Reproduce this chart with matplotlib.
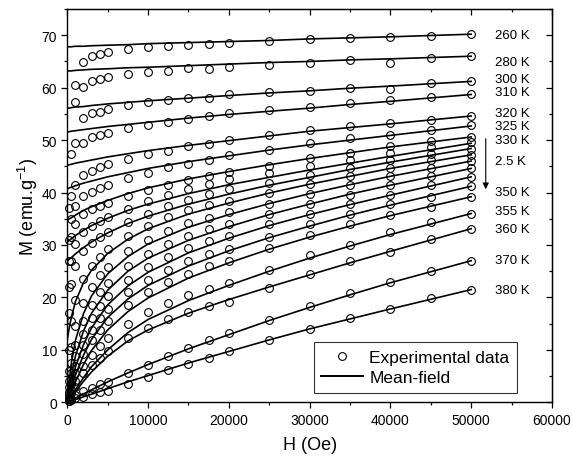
import numpy as np
import matplotlib
matplotlib.use('Agg')
import matplotlib.pyplot as plt
from matplotlib.lines import Line2D
from matplotlib.ticker import MultipleLocator

plt.rcParams['font.family'] = ['Liberation Sans', 'DejaVu Sans']
n = np.nan

TEMPS = [260, 280, 300, 310, 320, 325, 330, 332.5, 335, 337.5, 340, 342.5,
         345, 347.5, 350, 355, 360, 370, 380]

# experimental points (field in Oe, M in emu/g)
H_EXP = [200, 500, 1000, 2000, 3000, 4000, 5000, 7500, 10000, 12500, 15000,
         17500, 20000, 25000, 30000, 35000, 40000, 45000, 50000]
EXP_260 = [n, n, n, 64.9, 66.1, 66.5, 66.8, 67.4, 67.8, 68.0, 68.2, 68.4, 68.6, 68.9, 69.3, 69.4, 69.6, 69.9, 70.3]
EXP_280 = [n, n, 60.5, 60.2, 61.3, 61.7, 62.0, 62.7, 63.0, 63.2, 63.7, 63.6, 64.0, 64.4, 64.7, 65.3, 64.7, 65.6, 66.0]
EXP_300 = [n, n, 57.3, 54.2, 55.1, 55.4, 55.9, 56.7, 57.2, 57.7, 58.0, 58.1, 58.7, 59.1, 59.4, 59.9, 59.7, 60.8, 61.3]
EXP_310 = [n, 47.4, 49.4, 49.5, 50.6, 51.0, 51.4, 52.3, 52.9, 53.4, 54.0, 54.6, 55.2, 55.8, 56.4, 57.1, 57.7, 58.2, 58.7]
EXP_320 = [37.0, 39.3, 41.5, 43.4, 44.2, 44.8, 45.4, 46.4, 47.3, 48.0, 48.8, 49.3, 50.1, 50.9, 51.9, 52.7, 53.2, 53.8, 54.6]
EXP_325 = [31.0, 35.0, 37.5, 39.3, 40.2, 40.9, 41.4, 42.8, 43.8, 44.8, 45.4, 46.3, 47.1, 48.2, 49.4, 50.4, 51.0, 51.9, 52.8]
EXP_330 = [27.0, 31.5, 34.0, 36.0, 36.8, 37.5, 38.1, 39.4, 40.5, 41.5, 42.4, 43.2, 44.0, 45.1, 46.5, 47.6, 48.8, 49.9, 50.6]
EXP_3325 = [22.0, 27.0, 30.2, 32.5, 33.6, 34.5, 35.3, 36.9, 38.3, 39.5, 40.6, 41.6, 42.6, 43.8, 45.1, 46.2, 47.6, 48.7, 49.6]
EXP_335 = [17.0, 22.5, 26.0, 28.8, 30.3, 31.5, 32.5, 34.4, 36.0, 37.4, 38.6, 39.7, 40.7, 41.9, 43.4, 44.7, 46.2, 47.4, 48.4]
EXP_3375 = [10.0, 15.5, 19.5, 23.5, 26.0, 27.8, 29.2, 31.8, 33.7, 35.3, 36.6, 37.6, 38.4, 40.0, 41.7, 43.1, 44.7, 46.2, 47.2]
EXP_340 = [6.0, 10.5, 14.5, 19.0, 22.0, 24.2, 25.8, 28.8, 31.0, 32.7, 34.1, 35.2, 36.2, 37.9, 39.7, 41.4, 43.1, 44.7, 46.0]
EXP_3425 = [4.0, 7.5, 11.0, 15.5, 18.6, 21.0, 22.8, 26.0, 28.3, 30.2, 31.7, 33.0, 34.0, 35.9, 37.8, 39.5, 41.4, 43.2, 44.6]
EXP_345 = [3.0, 5.5, 8.8, 13.0, 16.0, 18.3, 20.2, 23.4, 25.8, 27.8, 29.4, 30.7, 31.8, 34.0, 35.9, 37.8, 39.5, 41.4, 43.0]
EXP_3475 = [2.0, 4.5, 7.0, 11.0, 13.8, 16.0, 17.8, 21.0, 23.4, 25.3, 26.9, 28.2, 29.3, 31.6, 34.0, 35.9, 37.8, 39.2, 41.2]
EXP_350 = [1.5, 3.5, 5.5, 9.3, 11.8, 13.8, 15.5, 18.6, 21.0, 22.9, 24.5, 25.9, 27.0, 29.4, 31.9, 34.0, 35.7, 37.3, 39.2]
EXP_355 = [1.0, 2.3, 4.0, 7.0, 9.0, 10.8, 12.2, 15.0, 17.2, 19.0, 20.5, 21.7, 22.7, 25.3, 28.0, 30.0, 32.4, 34.3, 36.0]
EXP_360 = [0.7, 1.7, 3.0, 5.5, 7.2, 8.5, 9.7, 12.2, 14.2, 15.9, 17.3, 18.4, 19.2, 21.8, 24.4, 26.9, 28.7, 31.1, 33.1]
EXP_370 = [0.3, 0.7, 1.3, 2.1, 2.8, 3.4, 3.8, 5.5, 7.2, 8.8, 10.3, 11.8, 13.3, 15.7, 18.4, 20.8, 22.9, 25.0, 27.0]
EXP_380 = [0.2, 0.4, 0.8, 1.1, 1.5, 1.9, 2.2, 3.5, 4.9, 6.1, 7.3, 8.5, 9.8, 11.9, 13.9, 16.0, 17.7, 19.8, 21.5]

# mean-field curves
H_MF = [0, 250, 500, 1000, 2000, 3000, 5000, 7500, 10000, 15000, 20000,
        25000, 30000, 35000, 40000, 50000]
MF_260 = [67.8, 67.8, 67.8, 67.9, 67.9, 68.0, 68.1, 68.2, 68.4, 68.6, 68.8, 69.0, 69.3, 69.5, 69.7, 70.2]
MF_280 = [63.2, 63.2, 63.2, 63.3, 63.4, 63.5, 63.6, 63.8, 63.9, 64.2, 64.5, 64.8, 65.0, 65.3, 65.5, 66.0]
MF_300 = [56.1, 56.1, 56.2, 56.3, 56.4, 56.6, 56.9, 57.2, 57.5, 58.0, 58.5, 59.0, 59.4, 59.9, 60.3, 61.2]
MF_310 = [51.6, 51.6, 51.7, 51.8, 52.0, 52.2, 52.6, 53.0, 53.4, 54.2, 54.9, 55.5, 56.1, 56.8, 57.4, 58.7]
MF_320 = [45.2, 45.3, 45.4, 45.6, 45.9, 46.2, 46.8, 47.4, 48.0, 49.0, 49.9, 50.8, 51.7, 52.4, 53.1, 54.6]
MF_325 = [40.7, 40.9, 41.0, 41.3, 41.8, 42.2, 43.0, 43.8, 44.6, 45.9, 47.0, 48.1, 49.1, 50.0, 50.9, 52.7]
MF_330 = [34.7, 35.0, 35.2, 35.7, 36.6, 37.3, 38.5, 39.8, 40.9, 42.6, 44.0, 45.3, 46.5, 47.6, 48.7, 50.6]
MF_3325 = [30.6, 30.9, 31.2, 31.8, 32.8, 33.7, 35.1, 36.6, 37.8, 39.8, 41.5, 42.9, 44.3, 45.6, 46.9, 49.4]
MF_335 = [26.9, 27.3, 27.6, 28.3, 29.5, 30.6, 32.3, 34.1, 35.5, 37.8, 39.7, 41.4, 42.9, 44.4, 45.8, 48.4]
MF_3375 = [12.0, 14.3, 16.2, 19.2, 22.8, 25.2, 28.4, 31.1, 33.1, 35.9, 38.0, 39.9, 41.6, 43.1, 44.6, 47.2]
MF_340 = [0.0, 4.4, 7.5, 11.8, 16.9, 20.3, 24.5, 27.8, 30.2, 33.4, 35.8, 37.9, 39.8, 41.5, 43.1, 46.0]
MF_3425 = [0.0, 2.8, 5.1, 8.8, 13.6, 17.0, 21.4, 25.0, 27.5, 30.9, 33.5, 35.8, 37.8, 39.7, 41.4, 44.6]
MF_345 = [0.0, 1.9, 3.6, 6.7, 11.0, 14.2, 18.6, 22.2, 24.8, 28.5, 31.3, 33.7, 35.8, 37.7, 39.5, 43.0]
MF_3475 = [0.0, 1.4, 2.7, 5.2, 9.0, 12.0, 16.2, 19.7, 22.3, 26.0, 28.9, 31.4, 33.6, 35.7, 37.6, 41.2]
MF_350 = [0.0, 1.0, 2.0, 3.9, 7.2, 9.9, 13.8, 17.3, 19.9, 23.7, 26.6, 29.2, 31.5, 33.6, 35.6, 39.2]
MF_355 = [0.0, 0.6, 1.2, 2.4, 4.7, 6.8, 10.0, 13.3, 15.8, 19.4, 22.3, 25.0, 27.5, 29.8, 32.0, 36.0]
MF_360 = [0.0, 0.5, 1.0, 2.0, 4.0, 5.8, 8.8, 11.7, 13.8, 17.0, 19.6, 22.0, 24.3, 26.6, 28.8, 33.1]
MF_370 = [0.0, 0.2, 0.4, 0.8, 1.6, 2.4, 3.9, 5.6, 7.2, 10.2, 12.9, 15.6, 18.1, 20.5, 22.8, 27.0]
MF_380 = [0.0, 0.13, 0.26, 0.52, 1.05, 1.55, 2.6, 3.9, 5.1, 7.5, 9.7, 11.9, 14.0, 15.9, 17.8, 21.5]

EXP = [EXP_260, EXP_280, EXP_300, EXP_310, EXP_320, EXP_325, EXP_330,
       EXP_3325, EXP_335, EXP_3375, EXP_340, EXP_3425, EXP_345, EXP_3475,
       EXP_350, EXP_355, EXP_360, EXP_370, EXP_380]
MF = [MF_260, MF_280, MF_300, MF_310, MF_320, MF_325, MF_330, MF_3325,
      MF_335, MF_3375, MF_340, MF_3425, MF_345, MF_3475, MF_350, MF_355,
      MF_360, MF_370, MF_380]

T_LABELS = ['260 K', '280 K', '300 K', '310 K', '320 K', '325 K', '330 K',
            '2.5 K', '350 K', '355 K', '360 K', '370 K', '380 K']
LABEL_M = [70.0, 64.9, 61.6, 59.1, 55.2, 52.6, 50.0, 46.1, 40.1, 36.4,
           33.1, 27.1, 21.4]


def main():
    fig = plt.figure(figsize=(5.72, 4.64), dpi=100)
    ax = fig.add_axes([0.1177, 0.1308, 0.8473, 0.8476])

    for m in MF:
        ax.plot(H_MF, m, color='black', lw=1.2, zorder=2)
    for e in EXP:
        ax.plot(H_EXP, e, ls='none', marker='o', ms=5.6, mfc='none',
                mec='black', mew=0.8, clip_on=False, zorder=3)

    for lab, y in zip(T_LABELS, LABEL_M):
        ax.text(53000, y, lab, fontsize=9.5, ha='left', va='center')
    ax.annotate('', xy=(51800, 40.1), xytext=(51800, 50.8),
                arrowprops=dict(arrowstyle='-|>', color='black', lw=0.8,
                                mutation_scale=9))

    ax.set_xlim(0, 60000)
    ax.xaxis.set_major_locator(MultipleLocator(10000))
    ax.xaxis.set_minor_locator(MultipleLocator(5000))
    ax.yaxis.set_minor_locator(MultipleLocator(5))
    ax.set_yticks(range(0, 71, 10))
    ax.set_ylim(0, 75)
    ax.tick_params(which='both', direction='out', top=False, right=False,
                   labelsize=10, width=0.9)
    ax.tick_params(which='major', length=4)
    ax.tick_params(which='minor', length=2.5)
    for sp in ax.spines.values():
        sp.set_linewidth(1.0)

    # inward ticks on top and right (no labels)
    tx = ax.secondary_xaxis('top')
    tx.set_xticks(range(0, 60001, 10000))
    tx.xaxis.set_minor_locator(MultipleLocator(5000))
    tx.tick_params(which='both', direction='in', labeltop=False, width=0.9)
    tx.tick_params(which='major', length=4)
    tx.tick_params(which='minor', length=2.5)
    ty = ax.secondary_yaxis('right')
    ty.set_yticks(range(0, 71, 10))
    ty.yaxis.set_minor_locator(MultipleLocator(5))
    ty.tick_params(which='both', direction='in', labelright=False, width=0.9)
    ty.tick_params(which='major', length=4)
    ty.tick_params(which='minor', length=2.5)

    ax.set_xlabel('H (Oe)', fontsize=13, labelpad=7)
    ax.set_ylabel(r'M (emu.g$^{\mathregular{-1}}$)', fontsize=13, labelpad=1)

    handles = [Line2D([], [], ls='none', marker='o', ms=5.6, mfc='none',
                      mec='black', mew=0.8),
               Line2D([], [], color='black', lw=1.4)]
    leg = ax.legend(handles, ['Experimental data', 'Mean-field'],
                    loc='lower right', bbox_to_anchor=(0.928, 0.024),
                    borderaxespad=0, fontsize=12.5, frameon=True,
                    fancybox=False, handlelength=2.4, handletextpad=0.35,
                    labelspacing=0.3, borderpad=0.45)
    leg.get_frame().set_edgecolor('black')
    leg.get_frame().set_linewidth(0.8)

    fig.savefig('out.png', dpi=100)


if __name__ == "__main__":
    main()
